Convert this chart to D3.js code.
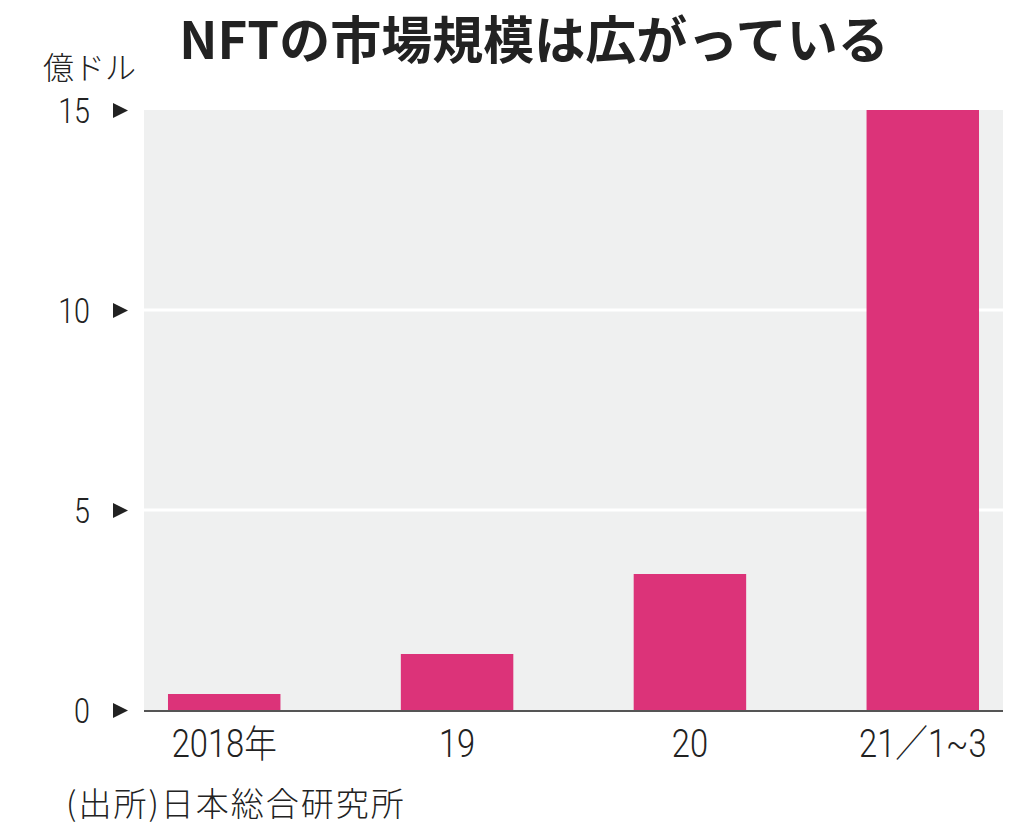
<!DOCTYPE html>
<html>
<head>
<meta charset="utf-8">
<script src="https://cdn.jsdelivr.net/npm/d3@7"></script>
<style>
  body { margin: 0; background: #fff; }
  text { font-family: "Noto Sans CJK JP", "Noto Sans", sans-serif; fill: #222; }
</style>
</head>
<body>
<div class="chart"></div>
<script>
// data
const years = ["2018年", "19", "20", "21／1~3"];
const values = [0.4, 1.4, 3.4, 15.0];
const yTicks = [0, 5, 10, 15];

const W = 1024, H = 835;
const plot = { left: 144, right: 1003, top: 110, bottom: 710 };
const narrow = 0.82; // digits in the original are a tall condensed face

const svg = d3.select(".chart")
    .append("svg")
    .attr("width", W)
    .attr("height", H);

const xScale = d3.scaleBand()
    .domain(years)
    .range([plot.left, plot.right])
    .paddingInner(0.517)
    .paddingOuter(0.103);

const yScale = d3.scaleLinear()
    .domain([0, 15])
    .range([plot.bottom, plot.top]);

// gray panel
svg.append("rect")
    .attr("x", plot.left)
    .attr("y", plot.top)
    .attr("width", plot.right - plot.left)
    .attr("height", plot.bottom - plot.top)
    .attr("fill", "#eff0f0");

// white gridlines
svg.selectAll("line.grid")
    .data(yTicks.filter(d => d > 0 && d < 15))
    .enter()
    .append("line")
    .attr("class", "grid")
    .attr("x1", plot.left)
    .attr("x2", plot.right)
    .attr("y1", d => yScale(d))
    .attr("y2", d => yScale(d))
    .attr("stroke", "#fff")
    .attr("stroke-width", 3);

// bars
svg.selectAll("rect.bar")
    .data(values)
    .enter()
    .append("rect")
    .attr("class", "bar")
    .attr("x", (d, i) => xScale(years[i]))
    .attr("y", d => yScale(d))
    .attr("width", xScale.bandwidth())
    .attr("height", d => yScale(0) - yScale(d))
    .attr("fill", "#dc3379");

// baseline
svg.append("line")
    .attr("x1", plot.left)
    .attr("x2", plot.right)
    .attr("y1", yScale(0) + 1)
    .attr("y2", yScale(0) + 1)
    .attr("stroke", "#555")
    .attr("stroke-width", 2);

// y axis: numbers + little triangles
const yAxis = d3.axisLeft(yScale)
    .tickValues(yTicks)
    .tickSize(0);

const gy = svg.append("g")
    .attr("transform", `translate(${plot.left}, 0)`)
    .call(yAxis);
gy.select(".domain").remove();
gy.selectAll(".tick text")
    .attr("x", -54 / narrow)
    .attr("dy", "0.36em")
    .attr("transform", `scale(${narrow},1)`)
    .attr("font-size", 35)
    .attr("fill", "#222")
    .style("font-family", "Roboto, 'Liberation Sans', sans-serif")
    .style("font-weight", 300);
gy.selectAll(".tick")
    .append("path")
    .attr("d", "M-31,-7.5 L-16,0 L-31,7.5 Z")
    .attr("fill", "#222");

// x axis labels
const xAxis = d3.axisBottom(xScale).tickSize(0).tickPadding(20);
const gx = svg.append("g")
    .attr("transform", `translate(0, ${plot.bottom})`)
    .call(xAxis);
gx.select(".domain").remove();
gx.selectAll(".tick text")
    .attr("transform", `scale(${narrow + 0.04},1)`)
    .attr("font-size", 38)
    .attr("fill", "#222")
    .style("font-family", "Roboto, 'Noto Sans CJK JP', sans-serif")
    .style("font-weight", 300);

// title
svg.append("text")
    .attr("x", 534)
    .attr("y", 59)
    .attr("text-anchor", "middle")
    .attr("font-size", 51)
    .attr("font-weight", 700)
    .text("NFTの市場規模は広がっている");

// unit
svg.append("text")
    .attr("x", 43)
    .attr("y", 79)
    .attr("font-size", 31)
    .attr("font-weight", 300)
    .attr("fill", "#333")
    .text("億ドル");

// source
svg.append("text")
    .attr("x", 66)
    .attr("y", 816)
    .attr("font-size", 33)
    .attr("font-weight", 300)
    .attr("letter-spacing", 2)
    .text("(出所)日本総合研究所");
</script>
</body>
</html>
